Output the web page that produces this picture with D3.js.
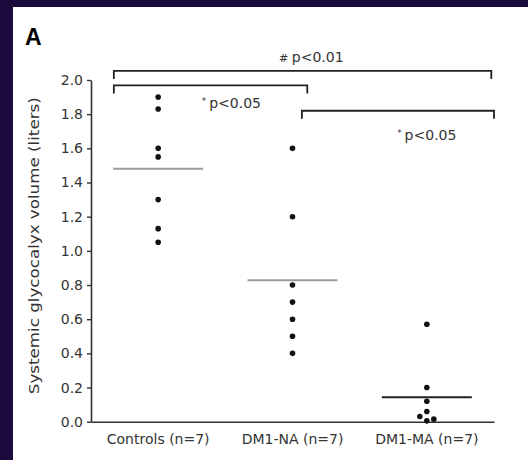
<!DOCTYPE html>
<html>
<head>
<meta charset="utf-8">
<script src="https://cdn.jsdelivr.net/npm/d3@7"></script>
<style>
  body { margin: 0; background: #1b0a3c; }
  svg { display: block; }
  text { font-family: "DejaVu Sans", sans-serif; fill: #333; }
</style>
</head>
<body>
<div id="graph"></div>
<script>
// values
let groups = ["Controls (n=7)", "DM1-NA (n=7)", "DM1-MA (n=7)"];
let controls = [1.90, 1.83, 1.60, 1.55, 1.30, 1.13, 1.05];
let dm1na = [1.60, 1.20, 0.80, 0.70, 0.60, 0.50, 0.40];
let dm1ma = [0.57, 0.20, 0.12, 0.06, 0.03, 0.005, 0.015];
let yTicks = [0, 0.2, 0.4, 0.6, 0.8, 1.0, 1.2, 1.4, 1.6, 1.8, 2.0];

// significance brackets: group index from / to, level in liters, label
let bracketFrom = [0, 0, 1];
let bracketTo = [2, 1, 2];
let bracketLevel = [2.053, 1.968, 1.82];
let bracketSign = ["#", "*", "*"];
let bracketText = ["p<0.01", "p<0.05", "p<0.05"];

let width = 528, height = 460;
let margin = {top: 80, right: 34, bottom: 38.3, left: 91};

let svg = d3.select("#graph")
    .append("svg")
    .attr("width", width)
    .attr("height", height);

svg.append("rect")
    .attr("x", 13).attr("y", 7)
    .attr("width", width - 13).attr("height", height - 7)
    .attr("fill", "white");

svg.append("text")
    .attr("x", 25).attr("y", 45)
    .style("font-family", "Liberation Sans, Arial, sans-serif")
    .style("font-size", "23px")
    .style("font-weight", 700)
    .style("fill", "#000")
    .text("A");

let g = svg.append("g")
    .attr("transform", `translate(${margin.left}, ${margin.top})`);

let w = width - margin.left - margin.right;
let h = height - margin.top - margin.bottom;

let x = d3.scaleBand().domain(groups).range([0, w]);
let y = d3.scaleLinear().domain([0, 2]).range([h, 0]);

// y axis
let yAxis = g.append("g")
    .call(d3.axisLeft(y).tickValues(yTicks).tickFormat(d3.format(".1f"))
        .tickSize(4).tickSizeOuter(0).tickPadding(4));
yAxis.select(".domain").attr("stroke", "#333").attr("stroke-width", 1.6);
yAxis.selectAll(".tick line").attr("stroke", "#333").attr("stroke-width", 1.4);
yAxis.selectAll(".tick text")
    .style("font-size", "14px")
    .style("fill", "#333")
    .style("font-family", "DejaVu Sans, sans-serif");

// x axis line, no ticks
let xAxis = g.append("g")
    .attr("transform", `translate(0, ${h})`)
    .call(d3.axisBottom(x).tickSize(0).tickSizeOuter(0).tickPadding(12));
xAxis.select(".domain").attr("stroke", "#333").attr("stroke-width", 1.6);
xAxis.selectAll(".tick text")
    .style("font-size", "14px")
    .style("fill", "#333")
    .style("font-family", "DejaVu Sans, sans-serif");

svg.append("text")
    .attr("transform", `translate(39, ${margin.top + y(1.03)}) rotate(-90)`)
    .attr("text-anchor", "middle")
    .attr("textLength", 297)
    .attr("lengthAdjust", "spacingAndGlyphs")
    .style("font-size", "14.5px")
    .text("Systemic glycocalyx volume (liters)");

// dots, nudged sideways only where they would overlap
let series = [controls, dm1na, dm1ma];
let r = 2.8, step = 7;
let meanColor = d3.scaleOrdinal().domain(groups).range(["#9c9c9c", "#9c9c9c", "#222"]);

series.forEach(function(vals, i) {
    let cx = x(groups[i]) + x.bandwidth() / 2;
    let placed = [];
    vals.forEach(function(v) {
        let cy = y(v);
        let offs = [0, -step, step, -2 * step, 2 * step];
        let dx = offs.find(function(o) {
            return placed.every(function(p) {
                return Math.hypot(p[0] - o, p[1] - cy) >= 2 * r + 0.4;
            });
        });
        placed.push([dx, cy]);
    });

    g.selectAll(".dot" + i)
        .data(placed)
        .enter()
        .append("circle")
        .attr("cx", function(d) { return cx + d[0]; })
        .attr("cy", function(d) { return d[1]; })
        .attr("r", r)
        .attr("fill", "#111");

    let m = d3.mean(vals);
    g.append("line")
        .attr("x1", cx - 45).attr("x2", cx + 45)
        .attr("y1", y(m)).attr("y2", y(m))
        .attr("stroke", meanColor(groups[i]))
        .attr("stroke-width", 2);
});

// brackets
let bw = x.bandwidth();
let startFrac = [-0.33, -0.33, 0.07];
let endFrac = [0.48, 0.11, 0.5];
let labelX = [0.14, -0.455, 0.0];
let labelDrop = [-9, 23, 29];

bracketFrom.forEach(function(f, i) {
    let x1 = x(groups[f]) + bw / 2 + startFrac[i] * bw;
    let x2 = x(groups[bracketTo[i]]) + bw / 2 + endFrac[i] * bw;
    let yy = y(bracketLevel[i]);
    g.append("path")
        .attr("d", `M${x1},${yy + 8}V${yy}H${x2}V${yy + 8}`)
        .attr("fill", "none")
        .attr("stroke", "#222")
        .attr("stroke-width", 1.8);

    let lx = (i === 0)
        ? x(groups[1]) + bw / 2 + labelX[i] * bw
        : x(groups[bracketTo[i]]) + bw / 2 + labelX[i] * bw;
    let t = g.append("text")
        .attr("x", lx)
        .attr("y", yy + labelDrop[i])
        .attr("text-anchor", "middle")
        .style("font-size", "14px");
    t.append("tspan")
        .attr("dy", bracketSign[i] === "*" ? -4 : 0)
        .style("font-size", bracketSign[i] === "*" ? "9px" : "11px")
        .style("font-style", "italic")
        .text(bracketSign[i] + " ");
    t.append("tspan")
        .attr("dy", bracketSign[i] === "*" ? 4 : 0)
        .text(bracketText[i]);
});
</script>
</body>
</html>
